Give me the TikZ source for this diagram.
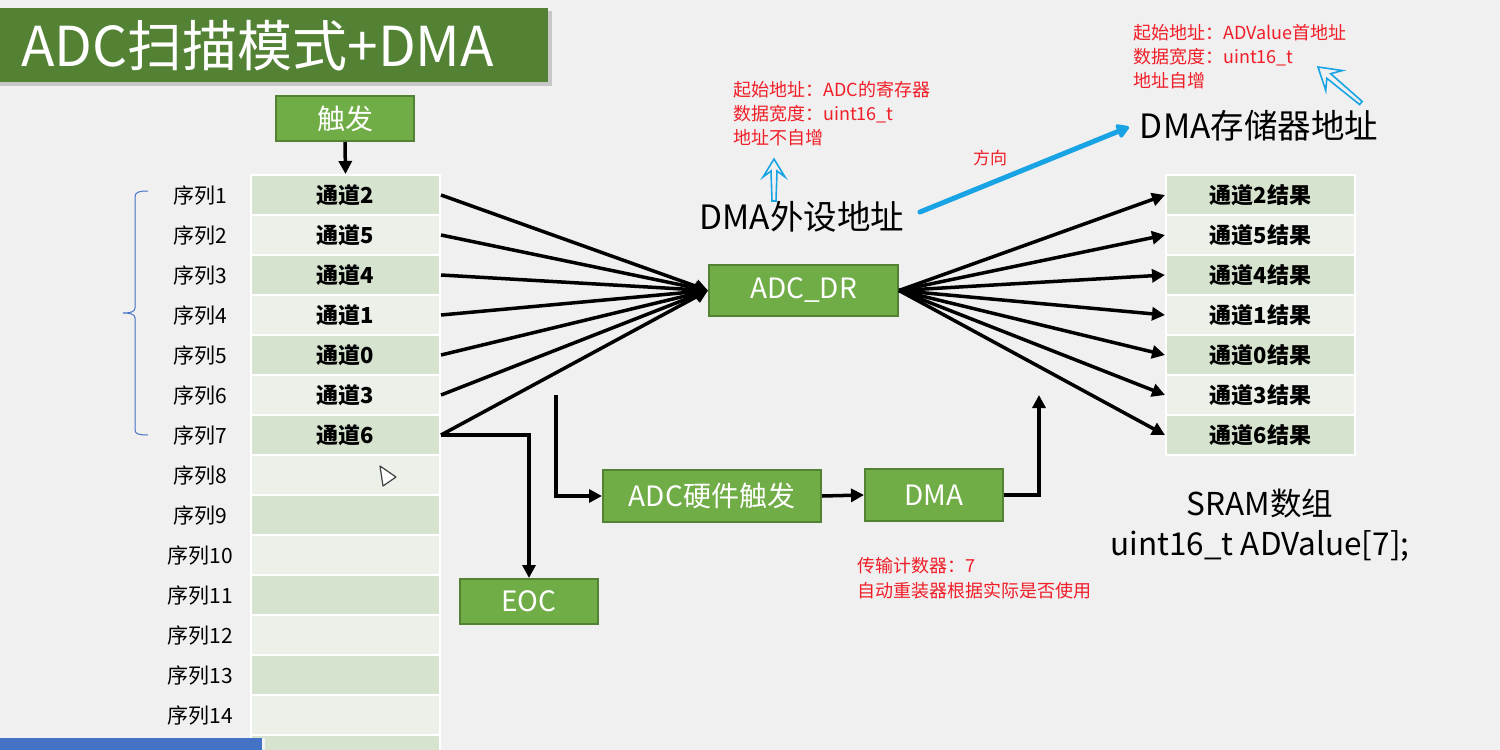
\documentclass[tikz,border=0pt]{standalone}
\usepackage{fontspec}
\setmainfont{Noto Sans CJK SC}
\usetikzlibrary{arrows.meta}
\definecolor{bg}{HTML}{F0F0F0}
\definecolor{titlegreen}{HTML}{548235}
\definecolor{boxgreen}{HTML}{70AD47}
\definecolor{boxborder}{HTML}{548235}
\definecolor{rowdark}{HTML}{D6E3CF}
\definecolor{rowlight}{HTML}{EBF0E8}
\definecolor{note}{RGB}{240,30,40}
\definecolor{skyblue}{HTML}{18A4E4}
\definecolor{brace}{HTML}{4472C4}
\begin{document}
\begin{tikzpicture}[x=1pt,y=-1pt,
  gbox/.style={fill=boxgreen, draw=boxborder, line width=2pt, text=white,
    font=\fontsize{28}{30}\selectfont, inner sep=0pt},
  cell/.style={draw=white, line width=2pt, minimum width=189pt, minimum height=40pt,
    inner sep=0pt, font=\fontsize{22}{24}\selectfont},
  seq/.style={font=\fontsize{21}{24}\selectfont, inner sep=0pt},
  arr/.style={line width=3.5pt, -{Triangle[length=13pt,width=13pt]}},
  notes/.style={text=note, font=\fontsize{18}{24}\selectfont, align=left, inner sep=0pt, anchor=north west},
  big/.style={font=\fontsize{33.5}{40}\selectfont, inner sep=0pt},
  hollow/.style={draw=skyblue, line width=1.6pt, line join=miter}
]
\clip (0,0) rectangle (1500,750);
\fill[bg] (0,0) rectangle (1500,750);

% title
\fill[black!22] (0,11) rectangle (552,86);
\node[fill=titlegreen, minimum width=548pt, minimum height=74pt, inner sep=0pt, anchor=north west] (titlebar) at (0,8) {};
\node[text=white, font=\fontsize{55}{60}\selectfont, anchor=west, inner sep=0pt] (titletext) at (21,46) {ADC扫描模式+DMA};

% main boxes
\node[gbox, minimum width=138pt, minimum height=45pt] (trig) at (345,118.5) {触发};
\node[gbox, minimum width=189pt, minimum height=51pt] (dr) at (803.5,290.5) {ADC\_DR};
\node[gbox, minimum width=218pt, minimum height=52pt] (hw) at (712,496) {ADC硬件触发};
\node[gbox, minimum width=138pt, minimum height=52pt] (dma) at (934,495) {DMA};
\node[gbox, minimum width=138pt, minimum height=45pt] (eoc) at (529,601.5) {EOC};

% tables
\foreach \i/\ch in {1/2,2/5,3/4,4/1,5/0,6/3,7/6}{
  \pgfmathsetmacro\yc{195+40*(\i-1)}
  \ifodd\i\def\rc{rowdark}\else\def\rc{rowlight}\fi
  \node[cell, fill=\rc] (L\i) at (345.5,\yc) {\bfseries 通道\ch};
  \node[cell, fill=\rc] (R\i) at (1260.5,\yc) {\bfseries 通道\ch 结果};
}
\foreach \i in {8,...,15}{
  \pgfmathsetmacro\yc{195+40*(\i-1)}
  \ifodd\i\def\rc{rowdark}\else\def\rc{rowlight}\fi
  \node[cell, fill=\rc] (L\i) at (345.5,\yc) {};
}
\foreach \i in {1,...,14}{
  \node[seq] (S\i) at (200,{196+40*(\i-1)}) {序列\i};
}

% brace
\draw[brace, line width=1pt] (148,191) .. controls (139,191) and (135,192) .. (135,197)
  -- (135,308) .. controls (135,312) and (130,313) .. (123,313)
  .. controls (130,313) and (135,314) .. (135,318)
  -- (135,430) .. controls (135,434) and (139,435) .. (148,435);

% fan connectors
\foreach \i in {1,...,7}{
  \draw[arr] (L\i.east) -- (dr.west);
  \draw[arr] (dr.east) -- (R\i.west);
}
\draw[arr] (trig.south) -- (L1.north);
\draw[arr] (L7.east) -| (eoc.north);
\coordinate (hwstart) at (556,395);
\draw[arr] (hwstart) |- (hw.west);
\draw[arr] (hw.east) -- (dma.west);
\coordinate (dmaend) at (1039,395);
\draw[arr] (dma.east) -| (dmaend);

% DMA address labels
\node[big] (periph) at (802,217) {DMA外设地址};
\node[big] (mem) at (1259,126) {DMA存储器地址};
\coordinate (dirA) at (920,212);
\coordinate (dirB) at (1129,127);
\draw[skyblue, line width=5pt, line cap=round, -{Triangle[length=14pt,width=16pt,round]}] (dirA) -- (dirB);
\node[text=note, font=\fontsize{17}{20}\selectfont, inner sep=0pt] (dirlabel) at (990,158) {方向};

% notes
\node[notes] (note1) at (733,81) {起始地址：ADC的寄存器\\数据宽度：uint16\_t\\地址不自增};
\node[notes] (note2) at (1133,24) {起始地址：ADValue首地址\\数据宽度：uint16\_t\\地址自增};
\node[notes, font=\fontsize{18}{25}\selectfont] (note3) at (857,557) {传输计数器：7\\自动重装器根据实际是否使用};

% hollow arrows
\begin{scope}[shift={(774,159)}]
  \draw[hollow] (0,0) -- (11,18) -- (3,12) -- (2,42) -- (-2,42) -- (-3,12) -- (-11,18) -- cycle;
\end{scope}
\begin{scope}[shift={(1318,67)}, rotate=50]
  \draw[hollow] (0,0) -- (13,21) -- (3,14) -- (2,56) -- (-2,56) -- (-3,14) -- (-13,21) -- cycle;
\end{scope}

% SRAM
\node[big, align=center, font=\fontsize{31.5}{40}\selectfont] (sram) at (1260,525) {SRAM数组\\uint16\_t ADValue[7];};

% cursor
\draw[fill=white, draw=black!75, line width=1.2pt, line join=round] (380,466) -- (396,477) -- (383,486) -- cycle;

% bottom blue bar
\fill[brace] (0,738) rectangle (262,750);
\fill[white!90!gray] (262,738) rectangle (265,750);
\end{tikzpicture}
\end{document}
